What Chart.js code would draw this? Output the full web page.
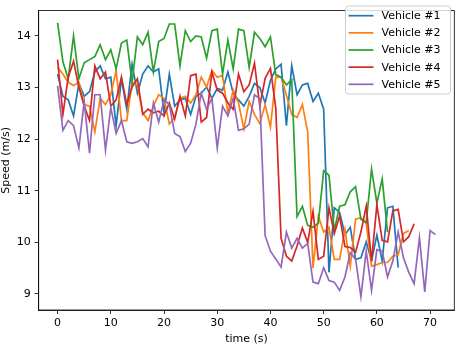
<!DOCTYPE html>
<html>
<head>
<meta charset="utf-8">
<script src="https://cdn.jsdelivr.net/npm/chart.js@4/dist/chart.umd.min.js"></script>
<style>
  html, body { margin: 0; padding: 0; background: #fff; }
  #wrap { width: 457px; height: 346px; position: relative; }
</style>
</head>
<body>
<div id="wrap"><canvas id="c" width="457" height="346"></canvas></div>
<script>
// ---- data (time step 1 s, values in m/s) ----
const seriesLabels = ['Vehicle #1', 'Vehicle #2', 'Vehicle #3', 'Vehicle #4', 'Vehicle #5'];
const seriesColors = ['#1f77b4', '#ff7f0e', '#2ca02c', '#d62728', '#9467bd'];
const xTickValues = [0, 10, 20, 30, 40, 50, 60, 70];
const yTickValues = [9, 10, 11, 12, 13, 14];

const vehicle1 = [13.26, 12.83, 12.76, 12.45, 13.08, 12.83, 12.92, 13.30, 13.42, 13.17,
  13.20, 12.26, 13.17, 12.58, 13.45, 12.89, 13.26, 13.42, 13.30, 13.36,
  12.51, 13.26, 12.64, 12.76, 12.79, 12.48, 12.83, 12.89, 13.01, 12.79,
  12.98, 12.95, 13.30, 12.89, 12.76, 12.64, 12.83, 13.08, 13.00, 12.70,
  13.14, 13.36, 13.45, 12.26, 13.42, 12.86, 13.05, 13.08, 12.73, 12.89,
  12.58, 9.42, 10.67, 10.58, 10.15, 10.29, 9.67, 9.70, 10.01, 9.64,
  10.14, 9.64, 10.67, 10.70, 9.51];
const vehicle2 = [13.39, 13.26, 13.10, 13.04, 13.10, 12.67, 12.64, 12.14, 12.79, 12.67,
  12.86, 13.33, 12.36, 12.36, 13.10, 13.04, 12.51, 12.36, 12.64, 12.86,
  12.79, 12.29, 12.42, 12.79, 12.83, 12.70, 12.86, 13.20, 13.01, 13.33,
  13.20, 13.23, 12.51, 12.95, 12.70, 12.20, 12.73, 12.48, 12.30, 12.67,
  12.23, 13.20, 13.20, 12.85, 12.48, 12.42, 12.67, 12.14, 9.50, 10.51,
  10.20, 10.29, 9.67, 9.67, 10.25, 9.54, 10.45, 10.48, 10.36, 9.54,
  9.57, 9.61, 9.61, 9.73, 9.76, 10.17, 10.23];
const vehicle3 = [14.25, 13.50, 13.17, 14.00, 13.17, 13.48, 13.54, 13.60, 13.83, 13.54,
  13.73, 13.36, 13.86, 13.92, 13.10, 13.98, 13.83, 14.07, 13.30, 13.89,
  13.95, 14.23, 14.23, 13.42, 14.10, 13.89, 14.00, 13.98, 13.57, 14.10,
  14.13, 13.26, 13.92, 13.36, 14.13, 14.10, 13.39, 14.07, 13.95, 13.79,
  13.98, 13.25, 13.20, 13.05, 13.15, 10.50, 10.70, 10.33, 10.29, 10.37,
  11.39, 11.30, 10.23, 10.70, 10.73, 10.98, 11.08, 10.45, 10.39, 11.42,
  10.76, 11.23, 10.20];
const vehicle4 = [13.54, 12.48, 13.20, 13.51, 13.01, 12.64, 12.36, 13.42, 13.17, 13.30,
  12.64, 12.76, 13.20, 12.67, 13.01, 13.17, 12.48, 12.58, 12.51, 12.54,
  12.45, 12.70, 12.39, 12.83, 12.45, 13.23, 13.26, 12.33, 12.42, 13.30,
  12.95, 12.89, 12.70, 12.58, 13.26, 12.92, 13.05, 13.47, 12.64, 13.18,
  13.37, 12.60, 10.08, 9.73, 9.64, 9.93, 10.28, 10.00, 10.60, 9.67,
  9.73, 10.67, 10.17, 10.51, 9.92, 9.90, 9.81, 10.20, 10.70, 9.64,
  10.73, 10.04, 10.01, 10.61, 10.64, 10.01, 10.11, 10.36];
const vehicle5 = [13.03, 12.17, 12.36, 12.26, 11.83, 12.73, 11.73, 12.86, 12.86, 11.79,
  12.61, 12.11, 12.36, 11.95, 11.92, 11.95, 12.01, 11.85, 12.70, 12.33,
  12.76, 12.67, 12.11, 12.05, 11.76, 11.92, 12.29, 12.89, 12.58, 12.79,
  11.83, 12.64, 12.45, 12.79, 12.17, 12.20, 12.29, 12.86, 12.78, 10.13,
  9.83, 9.68, 9.52, 10.20, 9.89, 10.08, 9.89, 9.98, 9.23, 9.20,
  9.51, 9.26, 9.23, 9.07, 9.33, 9.80, 9.67, 8.95, 9.83, 9.07,
  9.86, 9.83, 9.33, 9.64, 10.20, 9.70, 9.42, 9.20, 10.09, 9.04,
  10.23, 10.15];
const allSeries = [vehicle1, vehicle2, vehicle3, vehicle4, vehicle5];

// ---- chart ----
const FONT = 'DejaVu Sans';
const FS = 11;

const framePlugin = {
  id: 'frame',
  afterDatasetsDraw(chart) {
    const { ctx, chartArea: a } = chart;
    ctx.save();
    ctx.strokeStyle = '#000';
    ctx.lineWidth = 0.8;
    ctx.strokeRect(a.left, a.top, a.right - a.left, a.bottom - a.top);
    ctx.restore();
  }
};

const legendPlugin = {
  id: 'mplLegend',
  afterDraw(chart) {
    const { ctx } = chart;
    const bx = 345.5, by = 6, bw = 105, bh = 88, r = 3;
    ctx.save();
    ctx.beginPath();
    ctx.moveTo(bx + r, by);
    ctx.arcTo(bx + bw, by, bx + bw, by + bh, r);
    ctx.arcTo(bx + bw, by + bh, bx, by + bh, r);
    ctx.arcTo(bx, by + bh, bx, by, r);
    ctx.arcTo(bx, by, bx + bw, by, r);
    ctx.closePath();
    ctx.fillStyle = 'rgba(255,255,255,0.8)';
    ctx.fill();
    ctx.strokeStyle = '#cccccc';
    ctx.lineWidth = 1;
    ctx.stroke();
    ctx.font = FS + 'px "' + FONT + '"';
    ctx.textBaseline = 'middle';
    ctx.textAlign = 'left';
    chart.data.datasets.forEach((ds, i) => {
      const y = 15.7 + i * 17.15;
      ctx.strokeStyle = ds.borderColor;
      ctx.lineWidth = 1.7;
      ctx.beginPath();
      ctx.moveTo(348.5, y);
      ctx.lineTo(373.5, y);
      ctx.stroke();
      ctx.fillStyle = '#000';
      ctx.fillText(ds.label, 381.5, y + 0.5);
    });
    ctx.restore();
  }
};

const datasets = allSeries.map((vals, i) => ({
  label: seriesLabels[i],
  data: vals.map((v, t) => ({ x: t, y: v })),
  borderColor: seriesColors[i],
  backgroundColor: seriesColors[i],
  borderWidth: 1.7,
  pointRadius: 0,
  tension: 0,
  fill: false,
  order: allSeries.length - i
}));

new Chart(document.getElementById('c'), {
  type: 'line',
  data: { datasets },
  options: {
    responsive: false,
    animation: false,
    devicePixelRatio: 1,
    layout: { padding: { top: 1, right: 2.7, left: 0, bottom: 0 } },
    plugins: { legend: { display: false }, tooltip: { enabled: false } },
    scales: {
      x: {
        type: 'linear',
        min: -3.55,
        max: 74.55,
        afterBuildTicks: s => { s.ticks = xTickValues.map(v => ({ value: v })); },
        afterFit: s => { s.height = 36; },
        ticks: { color: '#000', font: { family: FONT, size: FS }, padding: 3, maxRotation: 0, autoSkip: false },
        grid: { drawOnChartArea: false, drawTicks: true, tickLength: 4, color: '#000', lineWidth: 0.8 },
        border: { display: true, color: '#000', width: 0.8 },
        title: { display: true, text: 'time (s)', color: '#000', font: { family: FONT, size: FS }, padding: { top: 0, bottom: 0 } }
      },
      y: {
        type: 'linear',
        min: 8.69,
        max: 14.49,
        afterBuildTicks: s => { s.ticks = yTickValues.map(v => ({ value: v })); },
        afterFit: s => { s.width = 38.7; },
        ticks: { color: '#000', font: { family: FONT, size: FS }, padding: 4, autoSkip: false },
        grid: { drawOnChartArea: false, drawTicks: true, tickLength: 4, color: '#000', lineWidth: 0.8 },
        border: { display: true, color: '#000', width: 0.8 },
        title: { display: true, text: 'Speed (m/s)', color: '#000', font: { family: FONT, size: FS }, padding: { top: 0, bottom: 0 } }
      }
    }
  },
  plugins: [framePlugin, legendPlugin]
});
</script>
</body>
</html>
